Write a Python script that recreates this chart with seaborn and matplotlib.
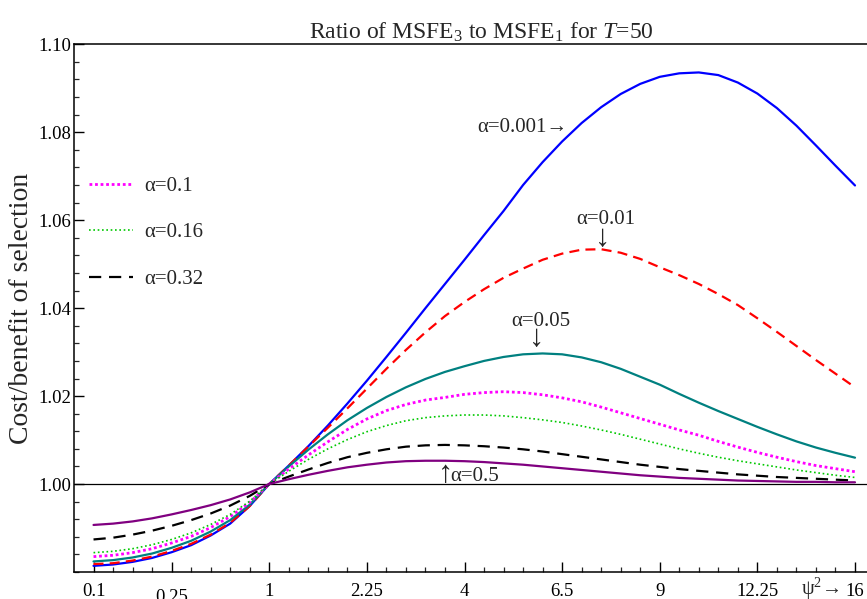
import matplotlib
matplotlib.use("Agg")
import matplotlib.pyplot as plt
from matplotlib.ticker import FixedLocator, MultipleLocator
from matplotlib.lines import Line2D
import pandas as pd
import seaborn as sns

# psi grid (x axis is linear in psi, labelled with psi^2)
psi = [0.1, 0.2, 0.3, 0.4, 0.5, 0.6, 0.7, 0.8, 0.9, 1.0,
       1.1, 1.2, 1.3, 1.4, 1.5, 1.6, 1.7, 1.8, 1.9, 2.0,
       2.1, 2.2, 2.3, 2.4, 2.5, 2.6, 2.7, 2.8, 2.9, 3.0,
       3.1, 3.2, 3.3, 3.4, 3.5, 3.6, 3.7, 3.8, 3.9, 4.0]

# Ratio MSFE3 / MSFE1 for each significance level alpha
ratio_a0001 = [0.9814, 0.9817, 0.9823, 0.9832, 0.9845, 0.9861, 0.9883, 0.9910, 0.9950, 1.0000,
               1.0042, 1.0086, 1.0133, 1.0183, 1.0235, 1.0289, 1.0344, 1.0400, 1.0455, 1.0510,
               1.0566, 1.0621, 1.0680, 1.0732, 1.0779, 1.0821, 1.0857, 1.0887, 1.0910, 1.0926,
               1.0934, 1.0936, 1.0930, 1.0913, 1.0888, 1.0855, 1.0815, 1.0770, 1.0724, 1.0679]
ratio_a001 = [0.9818, 0.9820, 0.9826, 0.9835, 0.9848, 0.9864, 0.9885, 0.9912, 0.9950, 1.0000,
              1.0042, 1.0085, 1.0128, 1.0172, 1.0217, 1.0262, 1.0305, 1.0345, 1.0382, 1.0414,
              1.0443, 1.0469, 1.0490, 1.0510, 1.0524, 1.0533, 1.0534, 1.0526, 1.0512, 1.0493,
              1.0475, 1.0455, 1.0432, 1.0407, 1.0377, 1.0346, 1.0314, 1.0282, 1.0251, 1.0220]
ratio_a005 = [0.9824, 0.9827, 0.9833, 0.9842, 0.9855, 0.9871, 0.9892, 0.9918, 0.9953, 1.0000,
              1.0040, 1.0078, 1.0113, 1.0145, 1.0173, 1.0198, 1.0220, 1.0239, 1.0255, 1.0268,
              1.0280, 1.0289, 1.0295, 1.0297, 1.0295, 1.0288, 1.0277, 1.0262, 1.0244, 1.0226,
              1.0205, 1.0185, 1.0166, 1.0148, 1.0130, 1.0113, 1.0097, 1.0083, 1.0071, 1.0060]
ratio_a01 = [0.9835, 0.9838, 0.9844, 0.9853, 0.9866, 0.9881, 0.9901, 0.9926, 0.9958, 1.0000,
             1.0034, 1.0066, 1.0096, 1.0124, 1.0148, 1.0167, 1.0181, 1.0191, 1.0197, 1.0204,
             1.0208, 1.0210, 1.0208, 1.0203, 1.0196, 1.0187, 1.0175, 1.0162, 1.0149, 1.0136,
             1.0123, 1.0111, 1.0097, 1.0084, 1.0072, 1.0061, 1.0051, 1.0042, 1.0035, 1.0028]
ratio_a016 = [0.9844, 0.9847, 0.9853, 0.9862, 0.9874, 0.9889, 0.9908, 0.9931, 0.9961, 1.0000,
              1.0029, 1.0056, 1.0080, 1.0101, 1.0119, 1.0133, 1.0144, 1.0151, 1.0155, 1.0157,
              1.0157, 1.0155, 1.0151, 1.0146, 1.0140, 1.0132, 1.0123, 1.0113, 1.0102, 1.0091,
              1.0080, 1.0070, 1.0061, 1.0053, 1.0046, 1.0039, 1.0032, 1.0026, 1.0020, 1.0015]
ratio_a032 = [0.9874, 0.9878, 0.9885, 0.9894, 0.9905, 0.9918, 0.9933, 0.9951, 0.9973, 1.0000,
              1.0017, 1.0033, 1.0048, 1.0061, 1.0071, 1.0079, 1.0085, 1.0088, 1.0089, 1.0088,
              1.0086, 1.0083, 1.0079, 1.0074, 1.0068, 1.0062, 1.0056, 1.0050, 1.0044, 1.0039,
              1.0034, 1.0030, 1.0026, 1.0022, 1.0019, 1.0016, 1.0014, 1.0012, 1.0010, 1.0008]
ratio_a05 = [0.9907, 0.9910, 0.9915, 0.9922, 0.9931, 0.9941, 0.9952, 0.9965, 0.9981, 1.0000,
             1.0011, 1.0021, 1.0030, 1.0038, 1.0044, 1.0049, 1.0052, 1.0053, 1.0053, 1.0052,
             1.0050, 1.0047, 1.0044, 1.0040, 1.0036, 1.0032, 1.0028, 1.0024, 1.0020, 1.0017,
             1.0014, 1.0012, 1.0010, 1.0008, 1.0007, 1.0006, 1.0005, 1.0005, 1.0004, 1.0004]

alpha_labels = ["α=0.001", "α=0.01", "α=0.05", "α=0.1", "α=0.16", "α=0.32", "α=0.5"]

x_tick_pos = [0.1, 0.5, 1.0, 1.5, 2.0, 2.5, 3.0, 3.5, 4.0]
x_tick_labels = ["0.1", "0.25", "1", "2.25", "4", "6.5", "9", "12.25", "16"]
y_tick_pos = [1.00, 1.02, 1.04, 1.06, 1.08, 1.10]
y_tick_labels = ["1.00", "1.02", "1.04", "1.06", "1.08", "1.10"]

sns.set_style("ticks")
plt.rcParams["font.family"] = ["Liberation Serif", "DejaVu Serif"]
plt.rcParams["mathtext.fontset"] = "custom"
plt.rcParams["mathtext.rm"] = "Liberation Serif"
plt.rcParams["mathtext.it"] = "Liberation Serif:italic"

series = [
    (ratio_a0001, dict(color="#0000ff", lw=1.6, linestyle="-")),
    (ratio_a001, dict(color="#ff0000", lw=1.6, linestyle=(0, (4.5, 2.8)))),
    (ratio_a005, dict(color="#008080", lw=1.6, linestyle="-")),
    (ratio_a01, dict(color="#ff00ff", lw=2.0, linestyle=(0, (1, 1)))),
    (ratio_a016, dict(color="#00c800", lw=1.2, linestyle=(0, (1, 1.6)))),
    (ratio_a032, dict(color="#000000", lw=1.6, linestyle=(0, (5.5, 3.5)))),
    (ratio_a05, dict(color="#800080", lw=1.6, linestyle="-")),
]

fig = plt.figure(figsize=(8.67, 5.99), dpi=100)
# the plotting frame runs past the right edge of the canvas
ax = fig.add_axes([74 / 867, 27 / 599, 814 / 867, 527.7 / 599])

for (vals, style), lab in zip(series, alpha_labels):
    df = pd.DataFrame({"psi": psi, "ratio": vals})
    sns.lineplot(data=df, x="psi", y="ratio", ax=ax, **style)

ax.axhline(1.0, color="black", lw=0.9, zorder=0.5)

ax.set_xlim(0, 4.0 * 814 / 781)
ax.set_ylim(0.98, 1.10)

ax.xaxis.set_major_locator(FixedLocator(x_tick_pos))
ax.set_xticklabels(x_tick_labels)
ax.xaxis.set_minor_locator(FixedLocator([i / 10 for i in range(1, 41)]))
ax.yaxis.set_major_locator(FixedLocator(y_tick_pos))
ax.set_yticklabels(y_tick_labels)
ax.yaxis.set_minor_locator(MultipleLocator(0.004))

ax.tick_params(which="major", direction="in", length=7, width=1.0, labelsize=13.5,
               colors="black")
ax.tick_params(which="minor", direction="in", length=3.5, width=0.9)
ax.tick_params(axis="x", which="major", pad=8)
ax.tick_params(axis="y", which="major", pad=2)
ax.xaxis.get_major_ticks()[1].set_pad(12)

for side in ("left", "bottom", "top"):
    ax.spines[side].set_linewidth(1.1)
    ax.spines[side].set_color("black")
ax.spines["right"].set_visible(False)

ax.set_xlabel("")
ax.set_ylabel("Cost/benefit of selection", fontsize=20, labelpad=3)
ax.set_title("Ratio of MSFE$_3$ to MSFE$_1$ for $T$=50", fontsize=17, pad=3)

# psi^2 arrow next to the last x tick label
ax.annotate("ψ$^2$→", xy=(4.0, 0), xycoords=("data", "axes fraction"),
            xytext=(-11, -16.2), textcoords="offset points", ha="right",
            va="baseline", fontsize=14.5)

# Curve annotations
ann = 15
arr = 22
ax.text(2.53, 1.081, "α=0.001→", ha="right", va="center", fontsize=ann)
ax.text(2.725, 1.0601, "α=0.01", ha="center", va="center", fontsize=ann)
ax.text(2.709, 1.0558, "↓", ha="center", va="center", fontsize=arr)
ax.text(2.39, 1.0370, "α=0.05", ha="center", va="center", fontsize=ann)
ax.text(2.369, 1.0331, "↓", ha="center", va="center", fontsize=arr)
ax.text(1.902, 1.0022, "↑", ha="center", va="center", fontsize=arr)
ax.text(1.925, 1.0017, "α=0.5", ha="left", va="center", fontsize=ann)

# Legend for the three middle levels
handles = [Line2D([], [], **series[i][1]) for i in (3, 4, 5)]
ax.legend(handles, [alpha_labels[i] for i in (3, 4, 5)], loc="upper left",
          bbox_to_anchor=(15 / 814, 0.75), frameon=False, fontsize=15,
          handlelength=2.1, handletextpad=0.55, labelspacing=1.3,
          borderaxespad=0, borderpad=0)

fig.savefig("out.png", dpi=100)
